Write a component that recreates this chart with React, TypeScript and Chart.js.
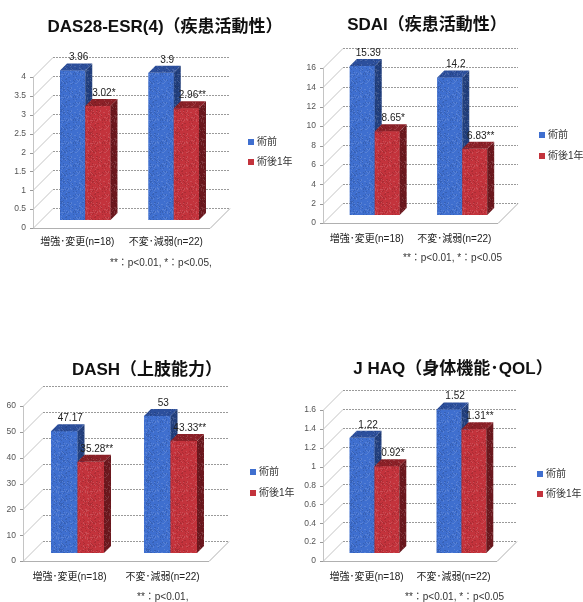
import React, { useEffect, useRef } from "react";
import { Chart, registerables } from "chart.js";

Chart.register(...registerables);

// ---------- data ----------
const categories = ["増強･変更(n=18)", "不変･減弱(n=22)"];
const seriesNames = ["術前", "術後1年"];

const das28Pre = [3.96, 3.9];
const das28Post = [3.02, 2.96];
const das28PreMarks = ["", ""];
const das28PostMarks = ["*", "**"];
const das28Ticks = [0, 0.5, 1, 1.5, 2, 2.5, 3, 3.5, 4];

const sdaiPre = [15.39, 14.2];
const sdaiPost = [8.65, 6.83];
const sdaiPreMarks = ["", ""];
const sdaiPostMarks = ["*", "**"];
const sdaiTicks = [0, 2, 4, 6, 8, 10, 12, 14, 16];

const dashPre = [47.17, 53];
const dashPost = [35.28, 43.33];
const dashPreMarks = ["", ""];
const dashPostMarks = ["**", "**"];
const dashTicks = [0, 10, 20, 30, 40, 50, 60];

const jhaqPre = [1.22, 1.52];
const jhaqPost = [0.92, 1.31];
const jhaqPreMarks = ["", ""];
const jhaqPostMarks = ["*", "**"];
const jhaqTicks = [0, 0.2, 0.4, 0.6, 0.8, 1, 1.2, 1.4, 1.6];

const titles = [
  "DAS28-ESR(4)（疾患活動性）",
  "SDAI（疾患活動性）",
  "DASH（上肢能力）",
  "J HAQ（身体機能･QOL）",
];
const footnotes = [
  "**：p<0.01, *：p<0.05,",
  "**：p<0.01, *：p<0.05",
  "**：p<0.01,",
  "**：p<0.01, *：p<0.05",
];

// ---------- styles ----------
const FRONT = ["#3f6fcf", "#c3333c"];
const SIDE = ["#23407e", "#6c181e"];
const TOP = ["#2c4f9c", "#8c2128"];

const JP = '"Liberation Sans", "Noto Sans CJK JP", sans-serif';
const NUM = '"Liberation Sans", "Noto Sans CJK JP", sans-serif';

// fine print-like grain (deterministic hash, not data)
const patternCache: Record<string, CanvasPattern | string> = {};
function grain(ctx: CanvasRenderingContext2D, color: string) {
  if (patternCache[color]) return patternCache[color];
  const W = 29, H = 23;
  const c = document.createElement("canvas");
  c.width = W;
  c.height = H;
  const g = c.getContext("2d")!;
  g.fillStyle = color;
  g.fillRect(0, 0, W, H);
  for (let i = 0; i < W; i++) {
    for (let j = 0; j < H; j++) {
      let h = (i * 374761393 + j * 668265263) | 0;
      h = Math.imul(h ^ (h >>> 13), 1274126177);
      h = (h ^ (h >>> 16)) >>> 0;
      const r = h % 100;
      if (r < 14) {
        g.fillStyle = "rgba(255,255,255,0.13)";
        g.fillRect(i, j, 1, 1);
      } else if (r > 85) {
        g.fillStyle = "rgba(0,0,0,0.12)";
        g.fillRect(i, j, 1, 1);
      }
    }
  }
  const pat = ctx.createPattern(c, "repeat") || color;
  patternCache[color] = pat;
  return pat;
}

type PanelCfg = {
  x: number; y: number; w: number; h: number;
  area: { l: number; r: number; t: number; b: number };
  titleX: number; titleY: number;
  footX: number; footY: number;
  legX: number; legY: number; legGap: number;
  xPad: number;
  pre: number[]; post: number[]; preMarks: string[]; postMarks: string[];
  ticks: number[]; title: string; foot: string;
};

const panels: PanelCfg[] = [
  {
    x: 0, y: 0, w: 300, h: 300,
    area: { l: 33, r: 210, t: 77, b: 228 },
    titleX: 165, titleY: 27, footX: 110, footY: 263,
    legX: 248, legY: 142, legGap: 20, xPad: 8,
    pre: das28Pre, post: das28Post, preMarks: das28PreMarks, postMarks: das28PostMarks,
    ticks: das28Ticks, title: titles[0], foot: footnotes[0],
  },
  {
    x: 290, y: 0, w: 293, h: 300,
    area: { l: 33, r: 208, t: 68, b: 223 },
    titleX: 137, titleY: 25, footX: 113, footY: 258,
    legX: 249, legY: 135, legGap: 21, xPad: 10,
    pre: sdaiPre, post: sdaiPost, preMarks: sdaiPreMarks, postMarks: sdaiPostMarks,
    ticks: sdaiTicks, title: titles[1], foot: footnotes[1],
  },
  {
    x: 0, y: 302, w: 300, h: 300,
    area: { l: 23, r: 209, t: 104, b: 259 },
    titleX: 147, titleY: 68, footX: 137, footY: 295,
    legX: 250, legY: 170, legGap: 21, xPad: 10,
    pre: dashPre, post: dashPost, preMarks: dashPreMarks, postMarks: dashPostMarks,
    ticks: dashTicks, title: titles[2], foot: footnotes[2],
  },
  {
    x: 290, y: 302, w: 293, h: 300,
    area: { l: 33, r: 207, t: 108, b: 259 },
    titleX: 163, titleY: 67, footX: 115, footY: 295,
    legX: 247, legY: 172, legGap: 20, xPad: 10,
    pre: jhaqPre, post: jhaqPost, preMarks: jhaqPreMarks, postMarks: jhaqPostMarks,
    ticks: jhaqTicks, title: titles[3], foot: footnotes[3],
  },
];

const DEPTH = 20; // wall depth
const SHIFT = 8; // bars placed mid-depth
const BAR_D = 7; // bar depth

function fmt(v: number) {
  return String(Math.round(v * 100) / 100);
}

function makePlugin(p: PanelCfg) {
  const marks = [p.preMarks, p.postMarks];
  return {
    id: "threeD",
    beforeDatasetsDraw(chart: any) {
      const { ctx, chartArea, scales } = chart;
      const { left, right, top, bottom } = chartArea;
      const y = scales.y;
      ctx.save();
      ctx.lineWidth = 1;
      ctx.strokeStyle = "#c4c4c4";
      ctx.beginPath();
      ctx.moveTo(left + 0.5, top);
      ctx.lineTo(left + 0.5, bottom);
      ctx.stroke();
      p.ticks.forEach((v) => {
        const py = Math.round(y.getPixelForValue(v)) + 0.5;
        ctx.setLineDash([]);
        ctx.strokeStyle = "#c4c4c4";
        ctx.beginPath();
        ctx.moveTo(left, py);
        ctx.lineTo(left + DEPTH, py - DEPTH);
        ctx.stroke();
        ctx.strokeStyle = "#999";
        ctx.beginPath();
        ctx.moveTo(left - 3, py);
        ctx.lineTo(left, py);
        ctx.stroke();
        ctx.strokeStyle = "#9a9a9a";
        ctx.setLineDash([2, 1]);
        ctx.beginPath();
        ctx.moveTo(left + DEPTH, py - DEPTH);
        ctx.lineTo(right + DEPTH, py - DEPTH);
        ctx.stroke();
      });
      ctx.setLineDash([]);
      const by = Math.round(bottom) + 0.5;
      ctx.strokeStyle = "#b0b0b0";
      ctx.beginPath();
      ctx.moveTo(left, by);
      ctx.lineTo(right, by);
      ctx.lineTo(right + DEPTH, by - DEPTH);
      ctx.stroke();
      ctx.restore();
      ctx.save();
      ctx.translate(SHIFT, -SHIFT);
    },
    afterDatasetsDraw(chart: any) {
      const { ctx } = chart;
      const metas = [chart.getDatasetMeta(0), chart.getDatasetMeta(1)];
      const n = metas[0].data.length;
      for (let i = 0; i < n; i++) {
        for (let d = 0; d < 2; d++) {
          const bar = metas[d].data[i];
          const { x, y, base, width } = bar.getProps(["x", "y", "base", "width"], true);
          const l = x - width / 2;
          const r = x + width / 2;
          ctx.fillStyle = grain(ctx, FRONT[d]);
          ctx.fillRect(l, y, width, base - y);
          ctx.fillStyle = grain(ctx, SIDE[d]);
          ctx.beginPath();
          ctx.moveTo(r, y);
          ctx.lineTo(r + BAR_D, y - BAR_D);
          ctx.lineTo(r + BAR_D, base - BAR_D);
          ctx.lineTo(r, base);
          ctx.closePath();
          ctx.fill();
          ctx.fillStyle = grain(ctx, TOP[d]);
          ctx.beginPath();
          ctx.moveTo(l, y);
          ctx.lineTo(l + BAR_D, y - BAR_D);
          ctx.lineTo(r + BAR_D, y - BAR_D);
          ctx.lineTo(r, y);
          ctx.closePath();
          ctx.fill();
        }
      }
      ctx.restore();
      ctx.save();
      ctx.font = `10px ${NUM}`;
      ctx.fillStyle = "#222";
      ctx.textAlign = "center";
      ctx.textBaseline = "middle";
      for (let d = 0; d < 2; d++) {
        const vals = chart.data.datasets[d].data as number[];
        metas[d].data.forEach((bar: any, i: number) => {
          const { x, y } = bar.getProps(["x", "y"], true);
          ctx.fillText(fmt(vals[i]) + marks[d][i], x + SHIFT + 6, y - SHIFT - 13);
        });
      }
      ctx.restore();
    },
    afterDraw(chart: any) {
      const { ctx } = chart;
      ctx.save();
      ctx.font = `bold 17px ${NUM}`;
      ctx.fillStyle = "#111";
      ctx.textAlign = "center";
      ctx.textBaseline = "middle";
      ctx.fillText(p.title, p.titleX, p.titleY);
      ctx.font = `10px ${JP}`;
      ctx.fillStyle = "#333";
      ctx.textAlign = "left";
      ctx.fillText(p.foot, p.footX, p.footY);
      ctx.font = `10px ${JP}`;
      chart.data.datasets.forEach((ds: any, i: number) => {
        const cy = p.legY + i * p.legGap;
        ctx.fillStyle = FRONT[i];
        ctx.fillRect(p.legX, cy - 3, 6, 6);
        ctx.fillStyle = "#333";
        ctx.fillText(ds.label, p.legX + 9, cy);
      });
      ctx.restore();
    },
  };
}

function Panel({ p }: { p: PanelCfg }) {
  const ref = useRef<HTMLCanvasElement>(null);
  useEffect(() => {
    const canvas = ref.current!;
    const { l, r, t, b } = p.area;
    const chart = new Chart(canvas, {
      type: "bar",
      data: {
        labels: categories,
        datasets: [
          { label: seriesNames[0], data: p.pre, backgroundColor: FRONT[0] },
          { label: seriesNames[1], data: p.post, backgroundColor: FRONT[1] },
        ],
      },
      options: {
        responsive: false,
        animation: false,
        devicePixelRatio: 1,
        layout: { padding: { left: 0, top: t, right: p.w - r, bottom: 0 } },
        datasets: { bar: { categoryPercentage: 0.57, barPercentage: 1, clip: false } as any },
        plugins: {
          legend: { display: false },
          title: { display: false },
          tooltip: { enabled: false },
        },
        scales: {
          x: {
            grid: { display: false, drawTicks: false },
            border: { display: false },
            ticks: { padding: p.xPad, color: "#222", font: { size: 10, family: JP } },
            afterFit: (s: any) => { s.height = p.h - b; },
          },
          y: {
            min: p.ticks[0],
            max: p.ticks[p.ticks.length - 1],
            grid: { display: false, drawTicks: false },
            border: { display: false },
            afterBuildTicks: (s: any) => { s.ticks = p.ticks.map((v) => ({ value: v })); },
            ticks: {
              padding: 7,
              color: "#555",
              font: { size: 8.5, family: NUM },
              callback: (v: any) => fmt(Number(v)),
            },
            afterFit: (s: any) => { s.width = l; },
          },
        },
      },
      plugins: [makePlugin(p)],
    });
    return () => chart.destroy();
  }, [p]);
  return (
    <canvas
      ref={ref}
      width={p.w}
      height={p.h}
      style={{ position: "absolute", left: p.x, top: p.y, width: p.w, height: p.h }}
    />
  );
}

export default function App() {
  return (
    <div style={{ position: "absolute", left: 0, top: 0, width: 583, height: 602, background: "#fff" }}>
      {panels.map((p, i) => (
        <Panel key={i} p={p} />
      ))}
    </div>
  );
}
